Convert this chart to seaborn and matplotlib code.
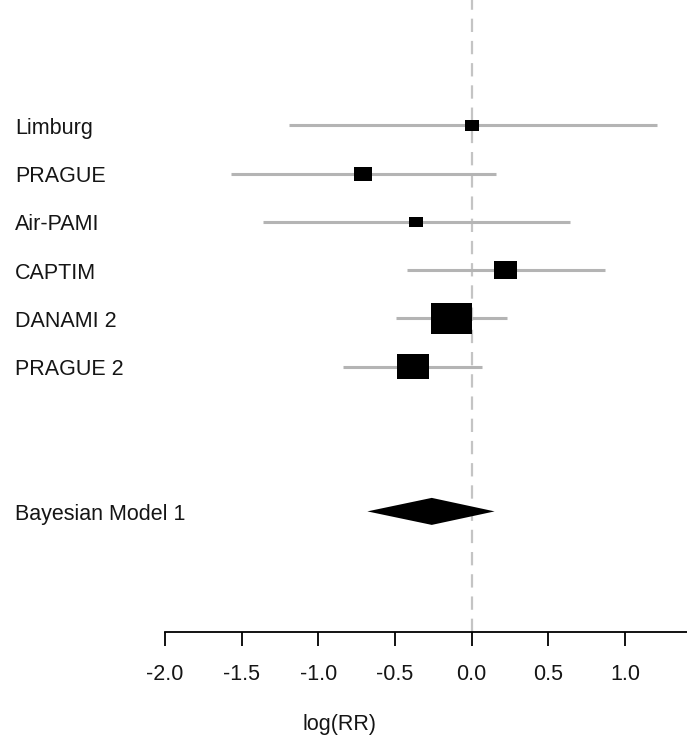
import matplotlib
matplotlib.use("Agg")
import matplotlib.pyplot as plt
import matplotlib.transforms as mtransforms
import numpy as np
import pandas as pd
import seaborn as sns

# study estimates on the log(RR) scale
studies = ["Limburg", "PRAGUE", "Air-PAMI", "CAPTIM", "DANAMI 2", "PRAGUE 2"]
estimate = [0.00, -0.71, -0.36, 0.22, -0.13, -0.38]
lower = [-1.19, -1.57, -1.36, -0.42, -0.49, -0.84]
upper = [1.21, 0.16, 0.645, 0.87, 0.23, 0.07]
weight = [5.0, 8.2, 5.0, 13.4, 42.5, 25.9]  # relative study weight (%)

pooled_label = "Bayesian Model 1"
pooled_est = -0.26
pooled_low = -0.68
pooled_high = 0.15

xticks = [-2.0, -1.5, -1.0, -0.5, 0.0, 0.5, 1.0]

df = pd.DataFrame({"study": studies, "est": estimate, "lo": lower,
                   "hi": upper, "w": weight})
df["row"] = np.arange(len(df), 0, -1)
pooled_row = -2

sns.set_theme(style="white")
plt.rcParams["font.family"] = ["Liberation Sans", "DejaVu Sans"]
plt.rcParams["axes.unicode_minus"] = False

W, H = 687, 744
FS = 15.5
TXT = "#151515"
fig = plt.figure(figsize=(W / 100, H / 100), dpi=100)
ax = fig.add_axes([165 / W, 1 - 632 / H, 1 - 165 / W, 632 / H])

# null line
ax.axvline(0, color="#c4c4c4", lw=1.6, ls=(0, (6, 4)), zorder=1)

# confidence intervals
ax.hlines(df["row"], df["lo"], df["hi"], color="#b4b4b4", lw=2.2, zorder=2)

# study boxes, area proportional to weight (box slightly wider than tall)
box = [(-1, -0.77), (1, -0.77), (1, 0.77), (-1, 0.77), (-1, -0.77)]
side_pt = 6.29 * np.sqrt(df["w"]) * 0.72
sns.scatterplot(data=df, x="est", y="row", marker=box, s=side_pt ** 2,
                color="black", linewidth=0, ax=ax, zorder=3, legend=False)

# pooled diamond
half_h = 0.28
ax.fill([pooled_low, pooled_est, pooled_high, pooled_est],
        [pooled_row, pooled_row + half_h, pooled_row, pooled_row - half_h],
        color="black", lw=0, zorder=3)

# row labels at the left margin (nudged down a little to sit on the row)
trans = mtransforms.blended_transform_factory(fig.transFigure, ax.transData)
trans = trans + mtransforms.ScaledTranslation(0, -3 / 100, fig.dpi_scale_trans)
for name, r in zip(df["study"], df["row"]):
    ax.text(15 / W, r, name, transform=trans, ha="left", va="center",
            fontsize=FS, color=TXT, clip_on=False)
ax.text(15 / W, pooled_row, pooled_label, transform=trans, ha="left",
        va="center", fontsize=FS, color=TXT, clip_on=False)

ax.set_xlim(-2.0, 1.405)
ax.set_ylim(-4.5, 8.6)
ax.set_yticks([])
ax.set_ylabel("")
ax.set_xticks(xticks)
ax.set_xticklabels([f"{t:.1f}" for t in xticks])
ax.tick_params(axis="x", bottom=True, length=10, width=1.3, color="black",
               pad=13, labelsize=FS, labelcolor=TXT)
ax.set_xlabel("log(RR)", fontsize=FS, color=TXT)
ax.xaxis.set_label_coords((339 - 165) / (W - 165), -0.13)

for side in ["left", "right", "top"]:
    ax.spines[side].set_visible(False)
ax.spines["bottom"].set_color("black")
ax.spines["bottom"].set_linewidth(1.3)

fig.savefig("out.png", dpi=100, facecolor="white")
